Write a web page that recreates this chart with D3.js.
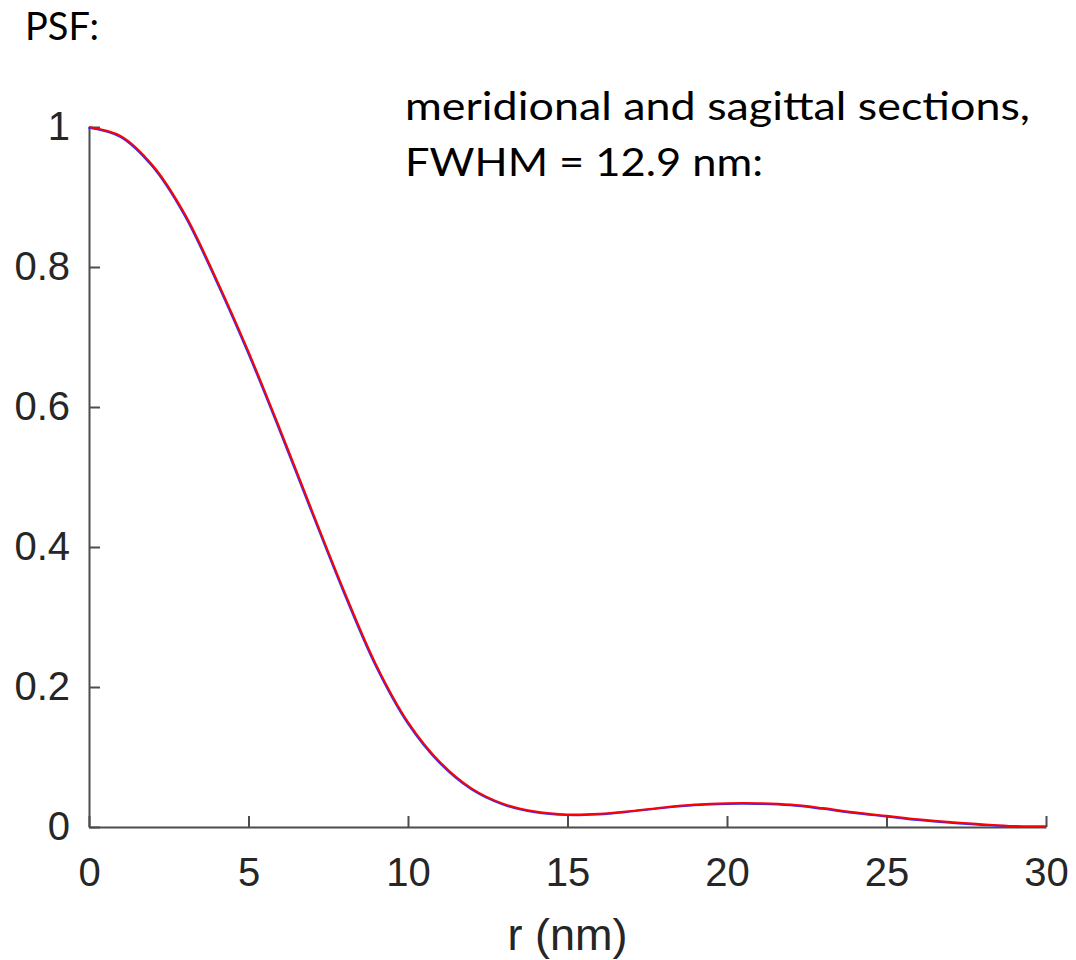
<!DOCTYPE html>
<html lang="en">
	<head>
		<meta charset="utf-8">
		<title>PSF</title>
		<script type="text/javascript" src="https://cdn.jsdelivr.net/npm/d3@7"></script>
		<style type="text/css">
			body {
				margin: 0;
				background: white;
			}
			.tick text {
				font-family: "Liberation Sans", Arial, sans-serif;
				font-size: 40px;
				fill: #262626;
			}
			.note {
				font-family: Lato, "Open Sans", sans-serif;
				font-size: 38px;
				fill: black;
			}
		</style>
	</head>
	<body>
		<script type="text/javascript">

			// radius (nm) and normalised PSF
			var radius = [0, 1, 2, 3, 4, 5, 6, 7, 8, 9, 10, 11, 12, 13, 14, 15,
						  16, 17, 18, 19, 20, 21, 22, 23, 24, 25, 26, 27, 28, 29, 30];
			var meridional = [1.0, 0.987, 0.945, 0.876, 0.782, 0.679, 0.567, 0.451, 0.337, 0.232, 0.150,
							  0.093, 0.055, 0.033, 0.022, 0.018, 0.019, 0.023, 0.028, 0.032, 0.034,
							  0.034, 0.032, 0.027, 0.021, 0.016, 0.011, 0.007, 0.004, 0.0015, 0.001];
			var sagittal = meridional.slice();

			var xTicks = [0, 5, 10, 15, 20, 25, 30];
			var yTicks = [0, 0.2, 0.4, 0.6, 0.8, 1];

			var w = 1076;
			var h = 960;
			var margin = {left: 89, right: 30, top: 127, bottom: 133};

			var svg = d3.select("body")
						.append("svg")
						.attr("width", w)
						.attr("height", h);

			var xScale = d3.scaleLinear()
						   .domain([0, 30])
						   .range([margin.left, w - margin.right]);

			var yScale = d3.scaleLinear()
						   .domain([0, 1])
						   .range([h - margin.bottom, margin.top]);

			//Axes, MATLAB style ticks pointing inwards
			var xAxis = d3.axisBottom(xScale)
						  .tickValues(xTicks)
						  .tickSizeInner(-11)
						  .tickSizeOuter(0)
						  .tickPadding(31)
						  .tickFormat(d3.format("d"));

			var yAxis = d3.axisLeft(yScale)
						  .tickValues(yTicks)
						  .tickSizeInner(-11)
						  .tickSizeOuter(0)
						  .tickPadding(19)
						  .tickFormat(function(d) { return d === 0 || d === 1 ? d : d3.format(".1f")(d); });

			var gx = svg.append("g")
						.attr("transform", "translate(0," + yScale(0) + ")")
						.call(xAxis);
			gx.selectAll("text").attr("dy", "0.71em");

			var gy = svg.append("g")
						.attr("transform", "translate(" + xScale(0) + ",0)")
						.call(yAxis);

			svg.selectAll(".domain, .tick line")
			   .attr("stroke", "#4d4d4d")
			   .attr("stroke-width", 2);

			//Curves: blue underneath, red on top
			var line = d3.line()
						 .x(function(d, i) { return xScale(radius[i]); })
						 .y(function(d) { return yScale(d); })
						 .curve(d3.curveCatmullRom.alpha(0.5));

			svg.append("path")
			   .datum(sagittal)
			   .attr("d", line)
			   .attr("fill", "none")
			   .attr("stroke", "#3030ff")
			   .attr("stroke-width", 2)
			   .attr("transform", "translate(-0.7,0.7)");

			svg.append("path")
			   .datum(meridional)
			   .attr("d", line)
			   .attr("fill", "none")
			   .attr("stroke", "#ff0000")
			   .attr("stroke-width", 2);

			//Labels
			svg.append("text")
			   .attr("x", xScale(15))
			   .attr("y", 950)
			   .attr("text-anchor", "middle")
			   .style("font-family", '"Liberation Sans", Arial, sans-serif')
			   .style("font-size", "45px")
			   .style("fill", "#262626")
			   .text("r (nm)");

			svg.append("text")
			   .attr("class", "note")
			   .attr("x", 25)
			   .attr("y", 40)
			   .text("PSF:");

			svg.append("text")
			   .attr("class", "note")
			   .attr("x", 405)
			   .attr("y", 120)
			   .attr("textLength", 625)
			   .attr("lengthAdjust", "spacingAndGlyphs")
			   .text("meridional and sagittal sections,");

			svg.append("text")
			   .attr("class", "note")
			   .attr("x", 405)
			   .attr("y", 176)
			   .attr("textLength", 358)
			   .attr("lengthAdjust", "spacingAndGlyphs")
			   .text("FWHM = 12.9 nm:");

		</script>
	</body>
</html>
